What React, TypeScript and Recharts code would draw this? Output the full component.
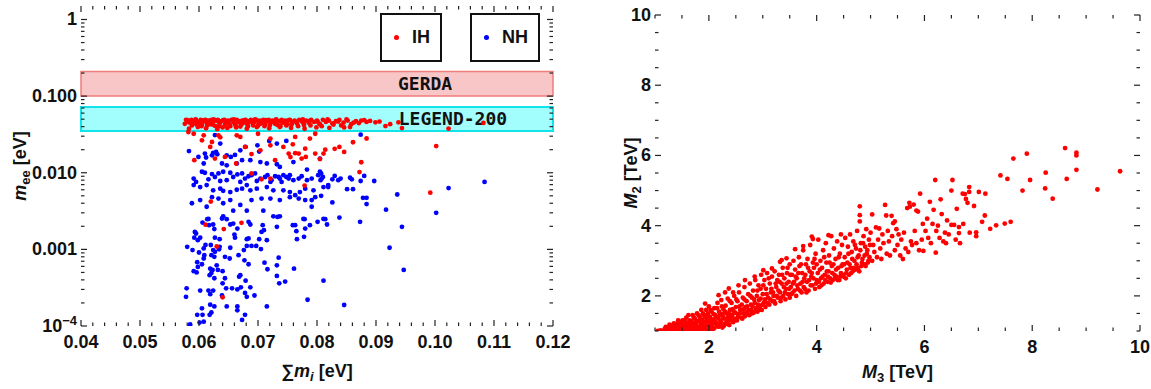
import React from 'react';
import { ScatterChart, Scatter, XAxis, YAxis, ReferenceArea, Legend } from 'recharts';

// left panel: [sum m_i (eV), m_ee (eV)]
const ihPoints: [number, number][] = [
  [0.0578, 0.049], [0.0581, 0.047], [0.0584, 0.045], [0.0587, 0.049], [0.0589, 0.043], [0.0592, 0.047],
  [0.0595, 0.049], [0.0597, 0.044], [0.06, 0.046], [0.0603, 0.049], [0.0605, 0.042], [0.0608, 0.047],
  [0.0611, 0.049], [0.0613, 0.045], [0.0616, 0.048], [0.0619, 0.043], [0.0621, 0.049], [0.0624, 0.046],
  [0.0627, 0.041], [0.0629, 0.048], [0.0632, 0.049], [0.0635, 0.044], [0.0638, 0.047], [0.064, 0.039],
  [0.0643, 0.049], [0.0646, 0.045], [0.0649, 0.048], [0.0652, 0.042], [0.0655, 0.049], [0.0658, 0.046],
  [0.0661, 0.043], [0.0664, 0.049], [0.0667, 0.047], [0.067, 0.04], [0.0673, 0.048], [0.0676, 0.045],
  [0.0679, 0.049], [0.0682, 0.043], [0.0685, 0.047], [0.0688, 0.049], [0.0691, 0.044], [0.0694, 0.046],
  [0.0697, 0.049], [0.07, 0.041], [0.0703, 0.048], [0.0706, 0.045], [0.0709, 0.049], [0.0712, 0.043],
  [0.0715, 0.047], [0.0718, 0.049], [0.0721, 0.044], [0.0724, 0.048], [0.0727, 0.046], [0.073, 0.049],
  [0.0733, 0.042], [0.0736, 0.047], [0.074, 0.049], [0.0743, 0.045], [0.0746, 0.048], [0.075, 0.043],
  [0.0754, 0.049], [0.0758, 0.046], [0.0762, 0.048], [0.0766, 0.044], [0.077, 0.049], [0.0774, 0.047],
  [0.0778, 0.042], [0.0782, 0.048], [0.0786, 0.045], [0.079, 0.049], [0.0795, 0.046], [0.08, 0.048],
  [0.0805, 0.043], [0.081, 0.049], [0.0815, 0.046], [0.082, 0.048], [0.0826, 0.044], [0.0832, 0.047],
  [0.0838, 0.049], [0.0845, 0.045], [0.0852, 0.048], [0.0858, 0.043], [0.0866, 0.047], [0.0875, 0.048],
  [0.0884, 0.046], [0.0899, 0.0455], [0.0916, 0.0407], [0.0924, 0.043], [0.0938, 0.0455], [0.0944, 0.0383],
  [0.1023, 0.0377], [0.1082, 0.0447],
  [0.058, 0.0485], [0.0586, 0.0465], [0.0594, 0.0495], [0.0602, 0.0445], [0.0609, 0.0485], [0.0617, 0.0455],
  [0.0625, 0.0495], [0.0633, 0.0465], [0.0641, 0.0485], [0.065, 0.0445], [0.0659, 0.0495], [0.0668, 0.0455],
  [0.0677, 0.0485], [0.0686, 0.0465], [0.0695, 0.0495], [0.0704, 0.0435], [0.0713, 0.0485], [0.0722, 0.0465],
  [0.0731, 0.0495], [0.0741, 0.0455], [0.0752, 0.0485], [0.0764, 0.0465], [0.0776, 0.0495], [0.0788, 0.0475],
  [0.0802, 0.0455], [0.0818, 0.0495], [0.0836, 0.0465], [0.085, 0.0495], [0.0862, 0.045], [0.088, 0.0485],
  [0.0583, 0.0375], [0.0598, 0.0395], [0.0612, 0.038], [0.0631, 0.037], [0.0648, 0.0385], [0.0663, 0.039],
  [0.0681, 0.0375], [0.0698, 0.0395], [0.0719, 0.038], [0.0737, 0.0395], [0.0756, 0.0385], [0.0779, 0.0375],
  [0.0799, 0.039], [0.0821, 0.0385], [0.0846, 0.039],
  [0.0576, 0.0435], [0.0588, 0.0415], [0.0596, 0.0425], [0.0604, 0.0405], [0.0614, 0.0415], [0.0623, 0.0425],
  [0.0634, 0.0405], [0.0644, 0.0425], [0.0653, 0.0405], [0.0662, 0.0415], [0.0672, 0.0425], [0.0683, 0.0405],
  [0.0692, 0.0415], [0.0701, 0.0445], [0.0711, 0.0405], [0.072, 0.0415], [0.0729, 0.0435], [0.0738, 0.0405],
  [0.0748, 0.0415], [0.0757, 0.0425], [0.0768, 0.0405], [0.0777, 0.0445], [0.0789, 0.0415], [0.0808, 0.0405],
  [0.0828, 0.0425], [0.0841, 0.0415], [0.0856, 0.0395], [0.0871, 0.0445], [0.089, 0.0475], [0.0906, 0.0465],
  [0.0582, 0.034], [0.0591, 0.0323], [0.0608, 0.0308], [0.0605, 0.0265], [0.0622, 0.0252], [0.0619, 0.0217],
  [0.0633, 0.0308], [0.0636, 0.029], [0.0664, 0.0308], [0.067, 0.0293], [0.0678, 0.0217], [0.0689, 0.0175],
  [0.07, 0.0323], [0.0704, 0.0196], [0.0721, 0.0279], [0.0721, 0.0228], [0.0729, 0.0146], [0.0743, 0.0217],
  [0.0752, 0.0178], [0.0763, 0.0293], [0.0774, 0.0153], [0.078, 0.0206], [0.0788, 0.0279], [0.0797, 0.0323],
  [0.0797, 0.0178], [0.0811, 0.0178], [0.0814, 0.02], [0.0592, 0.0146], [0.0627, 0.0153], [0.0644, 0.0161],
  [0.0663, 0.0132], [0.0689, 0.0098], [0.0706, 0.0082], [0.0721, 0.0084], [0.0779, 0.0068], [0.062, 0.0042],
  [0.0769, 0.0178], [0.0861, 0.025], [0.0884, 0.028], [0.0875, 0.0137], [0.0872, 0.0102], [0.0838, 0.0217],
  [0.0846, 0.0187], [0.083, 0.0205], [0.0805, 0.0151], [0.0781, 0.0161], [0.0755, 0.016], [0.0763, 0.018],
  [0.0759, 0.0235], [0.0992, 0.0055], [0.1002, 0.0223],
  [0.0611, 0.0021], [0.0642, 0.00184], [0.0672, 0.00222], [0.063, 0.00109], [0.064, 0.000237],
];

const nhPoints: [number, number][] = [
  [0.0627, 0.031], [0.0636, 0.024], [0.0583, 0.0192], [0.061, 0.0178], [0.0622, 0.0169], [0.0624, 0.0182],
  [0.0629, 0.0187], [0.0631, 0.0174], [0.0599, 0.0161], [0.0612, 0.0158], [0.0647, 0.0169], [0.0654, 0.0161],
  [0.0661, 0.0171], [0.067, 0.0196], [0.0679, 0.0217], [0.0699, 0.0228], [0.0702, 0.0189], [0.0719, 0.026],
  [0.0732, 0.024], [0.0748, 0.026], [0.0608, 0.0132], [0.0639, 0.0132], [0.0647, 0.0125], [0.0664, 0.0132],
  [0.0673, 0.0146], [0.0687, 0.0146], [0.0704, 0.0138], [0.0715, 0.0132], [0.0732, 0.0129], [0.0737, 0.0119],
  [0.076, 0.0138], [0.0783, 0.011], [0.0805, 0.0103],
  [0.0605, 0.0103], [0.061, 0.01], [0.0622, 0.0096], [0.0627, 0.0088], [0.0633, 0.0098], [0.0641, 0.0103],
  [0.0653, 0.01], [0.0658, 0.0088], [0.0665, 0.0095], [0.0673, 0.0098], [0.0678, 0.0084], [0.0684, 0.009],
  [0.0689, 0.0093], [0.0695, 0.0098], [0.0704, 0.0084], [0.0712, 0.0088], [0.0716, 0.0093], [0.0723, 0.008],
  [0.0729, 0.009], [0.0735, 0.0088], [0.0737, 0.0084], [0.0743, 0.0093], [0.0748, 0.0088], [0.0752, 0.0084],
  [0.0754, 0.0093], [0.076, 0.008], [0.0769, 0.0084], [0.0774, 0.009], [0.0783, 0.008], [0.0791, 0.0084],
  [0.0802, 0.0093], [0.0808, 0.0084], [0.0591, 0.0084], [0.0595, 0.0076], [0.0616, 0.0082], [0.0636, 0.0078],
  [0.0647, 0.008], [0.067, 0.0076], [0.0698, 0.0078], [0.0721, 0.0076], [0.074, 0.0076],
  [0.0591, 0.0069], [0.0602, 0.0065], [0.0613, 0.0069], [0.0624, 0.0059], [0.0636, 0.0062], [0.0641, 0.0058],
  [0.0653, 0.0056], [0.0664, 0.006], [0.0673, 0.0062], [0.0681, 0.0069], [0.0687, 0.0059], [0.0698, 0.0062],
  [0.0715, 0.0065], [0.0726, 0.0059], [0.0743, 0.0059], [0.0754, 0.0056], [0.0763, 0.0051], [0.0771, 0.0056],
  [0.078, 0.0062], [0.0794, 0.0059], [0.0811, 0.0065], [0.0819, 0.0069],
  [0.0588, 0.004], [0.0602, 0.0044], [0.0613, 0.0036], [0.0622, 0.0048], [0.0633, 0.0046], [0.0641, 0.004],
  [0.0653, 0.0044], [0.0658, 0.0032], [0.067, 0.0038], [0.0681, 0.0032], [0.0689, 0.0044], [0.0706, 0.0046],
  [0.0721, 0.0046], [0.0737, 0.0044], [0.0726, 0.0027], [0.0709, 0.0032], [0.0737, 0.0027], [0.0754, 0.0048],
  [0.0769, 0.0046], [0.078, 0.0044], [0.0791, 0.0044], [0.0797, 0.0048], [0.0791, 0.0036], [0.0811, 0.0025],
  [0.0777, 0.0025], [0.0616, 0.0025], [0.0641, 0.0027],
  [0.0606, 0.00224], [0.0614, 0.00248], [0.0617, 0.00207], [0.0624, 0.00211], [0.0626, 0.00184], [0.0639, 0.00253],
  [0.0647, 0.00248], [0.0653, 0.00211], [0.0658, 0.00217], [0.0665, 0.00187], [0.0684, 0.00229], [0.0687, 0.00211],
  [0.0708, 0.00207], [0.071, 0.00178], [0.0706, 0.00169], [0.0732, 0.00197], [0.0733, 0.00265], [0.0759, 0.00207],
  [0.0763, 0.00207], [0.0765, 0.00173], [0.0779, 0.00248], [0.078, 0.00187], [0.0788, 0.00207], [0.0801, 0.00229],
  [0.0814, 0.00248], [0.0817, 0.00211], [0.0593, 0.00169], [0.0595, 0.00161], [0.0592, 0.00142], [0.0598, 0.00132],
  [0.0602, 0.00142], [0.0627, 0.00142], [0.0635, 0.00136], [0.066, 0.00156], [0.0661, 0.00142], [0.0681, 0.00136],
  [0.0684, 0.00139], [0.0702, 0.00136], [0.0715, 0.00132], [0.0766, 0.00136], [0.0778, 0.00146],
  [0.058, 0.00108], [0.0589, 0.00098], [0.06, 0.00091], [0.0608, 0.00103], [0.0611, 0.00114], [0.062, 0.00114],
  [0.0624, 0.00098], [0.0634, 0.001], [0.0635, 0.00108], [0.0653, 0.00105], [0.0676, 0.00098], [0.0681, 0.00111],
  [0.0689, 0.00111], [0.0697, 0.00111], [0.0705, 0.00101], [0.0608, 0.00076], [0.0609, 0.00084], [0.0621, 0.00084],
  [0.0626, 0.0008], [0.0627, 0.00093], [0.0644, 0.0008], [0.0652, 0.00076], [0.0667, 0.00084], [0.0677, 0.00072],
  [0.0684, 0.00064], [0.0711, 0.00067], [0.0716, 0.00055], [0.0732, 0.00062], [0.0735, 0.00078], [0.0761, 0.00056],
  [0.0597, 0.00068], [0.0598, 0.00059], [0.0605, 0.00064], [0.0619, 0.00056], [0.0623, 0.00054], [0.063, 0.00062],
  [0.0632, 0.00054], [0.064, 0.00052], [0.0591, 0.00052], [0.0596, 0.0005], [0.0618, 0.00046], [0.0621, 0.00049],
  [0.0626, 0.00042], [0.0644, 0.00042], [0.0668, 0.00044], [0.067, 0.00046], [0.0679, 0.00039], [0.0687, 0.00032],
  [0.0732, 0.00045], [0.0736, 0.00036], [0.0746, 0.00038], [0.0811, 0.00039],
  [0.0579, 0.00031], [0.0578, 0.00024], [0.0602, 0.00029], [0.0616, 0.00029], [0.0619, 0.00026], [0.0624, 0.00029],
  [0.0639, 0.00025], [0.064, 0.00036], [0.0646, 0.00031], [0.0656, 0.00031], [0.0665, 0.0003], [0.0671, 0.00032],
  [0.0678, 0.00027], [0.0681, 0.00024], [0.0694, 0.00025], [0.0715, 0.00018], [0.0784, 0.00022],
  [0.0605, 0.00017], [0.0606, 0.00014], [0.0618, 0.00014], [0.0619, 0.00019], [0.0621, 0.00015], [0.0626, 0.00018],
  [0.0647, 0.00018], [0.0665, 0.00018], [0.0665, 0.00016], [0.0678, 0.00014], [0.0673, 0.00012], [0.0597, 0.00014],
  [0.0601, 0.000111], [0.0608, 0.000114], [0.0585, 0.000105],
  [0.0874, 0.0314], [0.0805, 0.0153], [0.0807, 0.0098], [0.081, 0.0088], [0.0806, 0.008], [0.083, 0.0091],
  [0.0836, 0.008], [0.084, 0.0084], [0.0826, 0.0082], [0.0856, 0.0086], [0.0859, 0.0082], [0.0874, 0.0078],
  [0.088, 0.0091], [0.0897, 0.0078], [0.0851, 0.0061], [0.0861, 0.0061], [0.0819, 0.0065], [0.0807, 0.005],
  [0.0936, 0.0052], [0.1023, 0.0063], [0.0878, 0.0047], [0.0884, 0.0047], [0.0884, 0.0039], [0.0826, 0.0041],
  [0.0917, 0.0033], [0.1002, 0.003], [0.0838, 0.0026], [0.1084, 0.0076], [0.0944, 0.00197], [0.0923, 0.00105],
  [0.0947, 0.00054], [0.0873, 0.00229], [0.0846, 0.000188],
];

// right panel: [M3 (TeV), M2 (TeV)]
const heavyPoints: [number, number][] = [
  [1.05, 1.0], [1.1, 1.02], [1.15, 1.0], [1.18, 1.06], [1.22, 1.03], [1.25, 1.1], [1.28, 1.0], [1.3, 1.07],
  [1.33, 1.15], [1.36, 1.02], [1.38, 1.1], [1.4, 1.2], [1.42, 1.05], [1.43, 1.3], [1.45, 1.13], [1.47, 1.0],
  [1.48, 1.25], [1.5, 1.08], [1.52, 1.18],
  [1.55, 1.02], [1.55, 1.3], [1.57, 1.12], [1.6, 1.22], [1.6, 1.0], [1.62, 1.45], [1.63, 1.08], [1.65, 1.17],
  [1.67, 1.28], [1.68, 1.02], [1.7, 1.45], [1.71, 1.12], [1.73, 1.23], [1.74, 1.35], [1.75, 1.05], [1.77, 1.17],
  [1.78, 1.5], [1.8, 1.28], [1.8, 1.0], [1.82, 1.1], [1.83, 1.4], [1.85, 1.2], [1.86, 1.6], [1.87, 1.03],
  [1.88, 1.32], [1.9, 1.13], [1.91, 1.45], [1.92, 1.24], [1.93, 1.78], [1.94, 1.06], [1.95, 1.6], [1.96, 1.35],
  [1.97, 1.16], [1.98, 1.5], [2.0, 1.02], [2.0, 1.27], [2.0, 1.7],
  [2.02, 1.4], [2.04, 1.12], [2.05, 1.55], [2.06, 1.2], [2.08, 1.33], [2.1, 1.08], [2.1, 1.65], [2.12, 1.45],
  [2.13, 1.25], [2.15, 1.15], [2.16, 1.8], [2.17, 1.38], [2.18, 2.02], [2.19, 1.55], [2.2, 1.18], [2.21, 1.3],
  [2.23, 1.88], [2.24, 1.48], [2.25, 1.1], [2.27, 1.62], [2.28, 1.35], [2.3, 1.22], [2.3, 2.1], [2.31, 1.72],
  [2.32, 1.5], [2.34, 1.28], [2.35, 1.92], [2.36, 1.4], [2.37, 2.21], [2.38, 1.17], [2.39, 1.6], [2.4, 1.3],
  [2.42, 1.8], [2.43, 1.45], [2.45, 1.25], [2.45, 2.1], [2.46, 1.55], [2.47, 2.0], [2.48, 1.35], [2.5, 1.68],
  [2.52, 1.3], [2.53, 1.85], [2.55, 1.48], [2.55, 2.3], [2.56, 2.1], [2.58, 1.6], [2.6, 1.38], [2.61, 1.75],
  [2.63, 1.95], [2.64, 1.5], [2.66, 2.25], [2.67, 1.42], [2.67, 2.45], [2.68, 1.68], [2.7, 1.85], [2.72, 1.55],
  [2.73, 2.05], [2.75, 1.45], [2.76, 2.35], [2.78, 1.75], [2.79, 1.6], [2.8, 1.95], [2.82, 2.15], [2.83, 1.52],
  [2.85, 1.8], [2.85, 2.55], [2.86, 2.45], [2.88, 1.65], [2.89, 2.0], [2.9, 1.55], [2.92, 2.3], [2.93, 1.88],
  [2.95, 1.7], [2.96, 2.2], [2.97, 2.6], [2.98, 1.6], [3.0, 2.05], [3.01, 2.73],
  [3.02, 1.8], [3.03, 2.45], [3.05, 1.68], [3.06, 2.2], [3.08, 2.65], [3.1, 1.95], [3.12, 1.75], [3.13, 2.35],
  [3.15, 2.1], [3.17, 2.55], [3.17, 2.78], [3.18, 1.85], [3.2, 2.0], [3.22, 2.7], [3.23, 1.78], [3.25, 2.25],
  [3.27, 2.45], [3.28, 1.95], [3.3, 2.6], [3.32, 2.1], [3.32, 2.97], [3.33, 1.85], [3.35, 2.35], [3.35, 3.02],
  [3.37, 2.8], [3.38, 2.0], [3.4, 2.5], [3.42, 1.9], [3.43, 2.2], [3.44, 3.07], [3.45, 2.65], [3.47, 2.05],
  [3.48, 2.4], [3.5, 1.95], [3.5, 2.9],
  [3.52, 2.25], [3.54, 2.6], [3.55, 2.08], [3.57, 3.0], [3.58, 2.4], [3.6, 2.75], [3.6, 3.33], [3.62, 2.0],
  [3.63, 2.5], [3.65, 2.2], [3.67, 3.1], [3.68, 2.85], [3.7, 2.35], [3.72, 2.1], [3.73, 2.65], [3.75, 3.3],
  [3.75, 3.42], [3.77, 2.5], [3.78, 2.2], [3.8, 2.9], [3.82, 2.4], [3.83, 3.05], [3.85, 2.15], [3.87, 2.7],
  [3.88, 3.45], [3.9, 2.55], [3.91, 3.69], [3.92, 2.3], [3.93, 2.95], [3.93, 3.62], [3.95, 2.8], [3.97, 2.2],
  [3.98, 3.2], [4.0, 2.45], [4.0, 2.9],
  [4.02, 2.65], [4.03, 3.6], [4.05, 2.25], [4.07, 3.0], [4.08, 2.5], [4.1, 2.8], [4.12, 3.3], [4.13, 2.35],
  [4.15, 2.6], [4.17, 3.5], [4.18, 2.95], [4.2, 2.4], [4.22, 2.7], [4.22, 3.73], [4.23, 3.15], [4.25, 2.5],
  [4.27, 3.7], [4.28, 2.85], [4.3, 2.45], [4.32, 3.35], [4.33, 2.6], [4.35, 3.05], [4.37, 2.55], [4.38, 3.55],
  [4.4, 2.8], [4.42, 2.45], [4.43, 3.2], [4.45, 2.65], [4.45, 3.75], [4.47, 3.45], [4.48, 2.9], [4.5, 2.55],
  [4.52, 3.1], [4.53, 3.65], [4.55, 2.65], [4.57, 2.95], [4.58, 3.4], [4.6, 2.6], [4.62, 3.75], [4.63, 2.8],
  [4.65, 3.25], [4.67, 2.7], [4.68, 3.55], [4.7, 3.0], [4.72, 2.75], [4.73, 3.35], [4.75, 3.85], [4.77, 2.8],
  [4.78, 3.15], [4.8, 4.55], [4.8, 4.3], [4.8, 4.12], [4.82, 3.5], [4.83, 2.85], [4.85, 3.05], [4.87, 3.7],
  [4.88, 2.9], [4.9, 3.4], [4.92, 3.9], [4.93, 3.2], [4.95, 2.95], [4.97, 3.6], [4.98, 3.1], [5.0, 3.8],
  [5.03, 4.32], [5.03, 3.0], [5.05, 3.45], [5.07, 3.25], [5.1, 3.95], [5.12, 3.1], [5.14, 3.6], [5.16, 3.92],
  [5.18, 3.35], [5.2, 3.05], [5.22, 3.75], [5.24, 3.5], [5.27, 4.59], [5.29, 4.29], [5.3, 3.2], [5.32, 3.85],
  [5.34, 3.55], [5.36, 3.15], [5.39, 4.28], [5.4, 3.7], [5.42, 4.07], [5.45, 4.12], [5.45, 3.3], [5.48, 3.9],
  [5.5, 3.45],
  [5.52, 3.75], [5.55, 3.15], [5.57, 3.6], [5.6, 3.05], [5.62, 3.8], [5.65, 3.35], [5.68, 4.5], [5.7, 3.25],
  [5.72, 4.65], [5.73, 4.54], [5.75, 3.55], [5.77, 3.45], [5.8, 4.6], [5.82, 3.85], [5.85, 3.5], [5.85, 4.43],
  [5.88, 4.4], [5.9, 3.3], [5.92, 4.91], [5.95, 3.6], [5.97, 4.05], [5.98, 3.28],
  [6.02, 3.85], [6.05, 4.2], [6.07, 3.65], [6.1, 4.68], [6.12, 3.5], [6.15, 4.05], [6.17, 4.45], [6.2, 5.3],
  [6.21, 3.23], [6.22, 3.85], [6.25, 4.0], [6.28, 3.65], [6.3, 4.75], [6.32, 4.33], [6.35, 3.55], [6.38, 3.8],
  [6.4, 3.5], [6.42, 4.15], [6.45, 3.75], [6.5, 4.02], [6.5, 5.0], [6.52, 5.3],
  [6.55, 4.02], [6.58, 3.6], [6.6, 4.48], [6.64, 3.96], [6.64, 3.79], [6.66, 3.5], [6.71, 4.91], [6.72, 4.05],
  [6.75, 4.9], [6.77, 4.76], [6.8, 4.65], [6.83, 5.1], [6.83, 4.96], [6.84, 3.8], [6.92, 4.56], [6.96, 3.81],
  [6.96, 3.7], [7.01, 4.96], [7.07, 4.11], [7.12, 4.29], [7.13, 4.91], [7.22, 3.91],
  [7.33, 4.01], [7.41, 5.43], [7.49, 4.06], [7.54, 5.33], [7.6, 4.11], [7.65, 5.91], [7.82, 5.0], [7.9, 6.05],
  [7.96, 5.3], [8.24, 5.06], [8.25, 5.51], [8.38, 4.77], [8.61, 6.21], [8.64, 5.33], [8.82, 6.08], [8.82, 6.0],
  [8.82, 5.59], [9.21, 5.03], [9.63, 5.55],
  [1.2, 1.12], [1.27, 1.18], [1.32, 1.04], [1.35, 1.22], [1.41, 1.12], [1.44, 1.02], [1.46, 1.2], [1.51, 1.3],
  [1.53, 1.0], [1.56, 1.2], [1.58, 1.38], [1.61, 1.12], [1.64, 1.3], [1.66, 1.05], [1.69, 1.2], [1.72, 1.38],
  [1.72, 1.02], [1.76, 1.28], [1.79, 1.1], [1.81, 1.45], [1.84, 1.02], [1.84, 1.3], [1.87, 1.15], [1.89, 1.5],
  [1.9, 1.25], [1.93, 1.4], [1.95, 1.1], [1.97, 1.28], [1.99, 1.42], [2.01, 1.18], [2.03, 1.6], [2.05, 1.3],
  [2.07, 1.05], [2.09, 1.48], [2.11, 1.22], [2.14, 1.38], [2.15, 1.65], [2.18, 1.12], [2.2, 1.45], [2.22, 1.25],
  [2.24, 1.7], [2.26, 1.4], [2.28, 1.15], [2.3, 1.55], [2.33, 1.35], [2.35, 1.2], [2.37, 1.5], [2.39, 1.85],
  [2.41, 1.4], [2.44, 1.62], [2.46, 1.3], [2.49, 1.52], [2.51, 1.9], [2.54, 1.4], [2.57, 1.7], [2.59, 1.52],
  [2.62, 1.35], [2.65, 1.62], [2.66, 1.9], [2.69, 1.5], [2.71, 1.7], [2.74, 1.6], [2.77, 2.0], [2.8, 1.5],
  [2.81, 1.7], [2.84, 1.9], [2.87, 1.58], [2.9, 2.15], [2.91, 1.75], [2.94, 1.6], [2.96, 1.92], [2.99, 1.75],
  [3.01, 2.3], [3.04, 1.9], [3.07, 2.05], [3.09, 1.8], [3.11, 2.5], [3.14, 1.9], [3.16, 2.2], [3.19, 2.1],
  [3.21, 1.85], [3.24, 2.35], [3.26, 2.0], [3.29, 2.15], [3.31, 2.4], [3.34, 1.95], [3.36, 2.6], [3.39, 2.25],
  [3.41, 2.1], [3.44, 2.35], [3.46, 2.8], [3.49, 2.2], [3.51, 2.6], [3.53, 2.05], [3.56, 2.35], [3.59, 2.15],
  [3.61, 2.55], [3.64, 2.3], [3.66, 2.65], [3.69, 2.15], [3.71, 2.9], [3.74, 2.4], [3.76, 2.25], [3.79, 2.6],
  [3.81, 2.1], [3.84, 2.8], [3.86, 2.45], [3.89, 2.3], [3.91, 2.65], [3.94, 2.5], [3.96, 3.05], [3.99, 2.35],
  [4.04, 2.4], [4.06, 2.75], [4.09, 2.3], [4.11, 2.55], [4.14, 3.1], [4.16, 2.45], [4.19, 2.7], [4.21, 2.55],
  [4.24, 2.95], [4.26, 2.38], [4.29, 2.65], [4.31, 2.9], [4.34, 2.5], [4.36, 2.75], [4.39, 2.45], [4.41, 3.1],
  [4.44, 2.55], [4.46, 2.85], [4.49, 2.6], [4.51, 2.9], [4.54, 2.5], [4.56, 2.75], [4.59, 3.2], [4.61, 2.9],
  [4.64, 2.65], [4.66, 3.05], [4.69, 2.8], [4.71, 3.45], [4.74, 2.9], [4.76, 3.1], [4.79, 2.7], [4.81, 3.3],
  [4.84, 2.95], [4.86, 3.5], [4.89, 3.15], [4.91, 2.85], [4.94, 3.3], [4.96, 3.0], [4.99, 3.45],
];

// axes
const sumTicks = [0.04, 0.05, 0.06, 0.07, 0.08, 0.09, 0.1, 0.11, 0.12];
const meeTicks = [0.0001, 0.001, 0.01, 0.1, 1];
const meeTickLabels = ['10^-4', '0.001', '0.010', '0.100', '1'];
const massTicks = [2, 4, 6, 8, 10];

// experimental bounds on m_ee (eV)
const gerdaBand = [0.1, 0.21];
const legend200Band = [0.035, 0.072];

const legendItems = [
  { name: 'IH', color: '#ff0000', width: 62 },
  { name: 'NH', color: '#0000ff', width: 70 },
];

const AXIS = '#222';
const FONT = "'Liberation Sans', Arial, sans-serif";
const MONO = "'DejaVu Sans Mono', monospace";

const ihData = ihPoints.map(([sum, mee]) => ({ sum, mee }));
const nhData = nhPoints.map(([sum, mee]) => ({ sum, mee }));
const heavyData = heavyPoints.map(([m3, m2]) => ({ m3, m2 }));

const sumAllTicks = Array.from({ length: 41 }, (_, i) => +(0.04 + i * 0.002).toFixed(3));
const meeAllTicks = meeTicks.flatMap((d, i) =>
  i === meeTicks.length - 1 ? [d] : [1, 2, 3, 4, 5, 6, 7, 8, 9].map((k) => +(d * k).toPrecision(3))
);
const massAllTicks = Array.from({ length: 19 }, (_, i) => 1 + i * 0.5);

const isIn = (list: number[], v: number) => list.findIndex((t) => Math.abs(t - v) < 1e-9);

const dot = (color: string) => (p: any) => <circle cx={p.cx} cy={p.cy} r={2.4} fill={color} />;

function xTick(majors: number[], fmt: (v: number) => string, plotH: number) {
  return (p: any) => {
    const { x, y, payload } = p;
    const major = isIn(majors, payload.value) >= 0;
    const len = major ? 6 : 3.5;
    return (
      <g>
        <line x1={x} y1={y} x2={x} y2={y - len} stroke={AXIS} strokeWidth={1.2} />
        <line x1={x} y1={y - plotH} x2={x} y2={y - plotH + len} stroke={AXIS} strokeWidth={1.2} />
        {major && (
          <text x={x} y={y + 22} textAnchor="middle" fontFamily={FONT} fontWeight={700} fontSize={18} fill="#111">
            {fmt(payload.value)}
          </text>
        )}
      </g>
    );
  };
}

function yTick(majors: number[], label: (i: number) => React.ReactNode, plotW: number) {
  return (p: any) => {
    const { x, y, payload } = p;
    const i = isIn(majors, payload.value);
    const len = i >= 0 ? 6 : 3.5;
    return (
      <g>
        <line x1={x} y1={y} x2={x + len} y2={y} stroke={AXIS} strokeWidth={1.2} />
        <line x1={x + plotW} y1={y} x2={x + plotW - len} y2={y} stroke={AXIS} strokeWidth={1.2} />
        {i >= 0 && (
          <text x={x - 4} y={y} dy={6} textAnchor="end" fontFamily={FONT} fontWeight={700} fontSize={18} fill="#111">
            {label(i)}
          </text>
        )}
      </g>
    );
  };
}

const meeLabel = (i: number) => {
  const s = meeTickLabels[i];
  if (s.includes('^')) {
    const [base, exp] = s.split('^');
    return (
      <>
        {base}
        <tspan dy={-7} fontSize={13}>{exp.replace('-', '\u2212')}</tspan>
      </>
    );
  }
  return s;
};

const bandLabel = (text: string, frac: number) => (p: any) => {
  const vb = p.viewBox;
  return (
    <text x={vb.x + vb.width * frac} y={vb.y + vb.height / 2} dy={6} textAnchor="middle"
      fontFamily={MONO} fontWeight={700} fontSize={18} fill="#111">
      {text}
    </text>
  );
};

const renderLegend = () => (
  <div style={{ display: 'flex', gap: 28 }}>
    {legendItems.map((it) => (
      <div key={it.name} style={{
        boxSizing: 'border-box', width: it.width, height: 49, border: '2px solid #111',
        display: 'flex', alignItems: 'center', paddingLeft: 12, gap: 13,
        fontFamily: FONT, fontWeight: 700, fontSize: 18, color: '#111', background: '#fff',
      }}>
        <span style={{ width: 5, height: 5, borderRadius: '50%', background: it.color, display: 'inline-block' }} />
        <span>{it.name}</span>
      </div>
    ))}
  </div>
);

const LEFT_W = 472;
const LEFT_H = 320;
const RIGHT_W = 485;
const RIGHT_H = 316;

export default function App() {
  return (
    <div style={{ position: 'absolute', left: 0, top: 0, width: 1151, height: 389, background: '#fff' }}>
      <div style={{ position: 'absolute', left: 0, top: 0 }}>
        <ScatterChart width={570} height={389} margin={{ top: 6, right: 17, bottom: 0, left: 0 }}>
          <XAxis
            type="number" dataKey="sum" domain={[0.04, 0.12]} ticks={sumAllTicks} interval={0}
            height={63} tickSize={0} tickMargin={0} axisLine={false} tickLine={false} allowDataOverflow
            tick={xTick(sumTicks, (v) => v.toFixed(2), LEFT_H)}
            label={(p: any) => {
              const vb = p.viewBox;
              return (
                <text x={vb.x + vb.width / 2} y={vb.y + 51} textAnchor="middle" fontFamily={FONT} fontWeight={700} fontSize={18} fill="#111">
                  <tspan>{'\u2211'}</tspan>
                  <tspan fontStyle="italic">m</tspan>
                  <tspan fontStyle="italic" fontSize={13} dy={4}>i</tspan>
                  <tspan dy={-4}> [eV]</tspan>
                </text>
              );
            }}
          />
          <YAxis
            type="number" dataKey="mee" scale="log" domain={[0.0001, 1.5]} ticks={meeAllTicks} interval={0}
            width={81} tickSize={0} tickMargin={0} axisLine={false} tickLine={false} allowDataOverflow
            tick={yTick(meeTicks, meeLabel, LEFT_W)}
            label={(p: any) => {
              const vb = p.viewBox;
              const cx = 26;
              const cy = vb.y + vb.height / 2;
              return (
                <text x={cx} y={cy} transform={`rotate(-90, ${cx}, ${cy})`} textAnchor="middle" fontFamily={FONT} fontWeight={700} fontSize={18} fill="#111">
                  <tspan fontStyle="italic">m</tspan>
                  <tspan fontSize={13} dy={4}>ee</tspan>
                  <tspan dy={-4}> [eV]</tspan>
                </text>
              );
            }}
          />
          <ReferenceArea y1={gerdaBand[0]} y2={gerdaBand[1]} fill="#f8c6c6" fillOpacity={1} stroke="#f07c7c" strokeWidth={1.5} />
          <ReferenceArea y1={legend200Band[0]} y2={legend200Band[1]} fill="#a2fdfd" fillOpacity={1} stroke="#10e4ea" strokeWidth={2} />
          <Scatter data={nhData} shape={dot('#0000ff')} isAnimationActive={false} />
          <Scatter data={ihData} shape={dot('#ff0000')} isAnimationActive={false} />
          <ReferenceArea y1={gerdaBand[0]} y2={gerdaBand[1]} fill="none" stroke="none" label={bandLabel('GERDA', 0.729)} />
          <ReferenceArea y1={legend200Band[0]} y2={legend200Band[1]} fill="none" stroke="none" label={bandLabel('LEGEND-200', 0.788)} />
          <ReferenceArea fill="none" stroke={AXIS} strokeWidth={1.6} />
          <Legend verticalAlign="middle" align="center" layout="horizontal"
            wrapperStyle={{ left: 380, top: 13, width: 'auto', height: 'auto' }} content={renderLegend} />
        </ScatterChart>
      </div>
      <div style={{ position: 'absolute', left: 575, top: 0 }}>
        <ScatterChart width={576} height={389} margin={{ top: 15, right: 11, bottom: 0, left: 0 }}>
          <XAxis
            type="number" dataKey="m3" domain={[1, 10]} ticks={massAllTicks} interval={0}
            height={58} tickSize={0} tickMargin={0} axisLine={false} tickLine={false} allowDataOverflow
            tick={xTick(massTicks, (v) => String(v), RIGHT_H)}
            label={(p: any) => {
              const vb = p.viewBox;
              return (
                <text x={vb.x + vb.width / 2} y={vb.y + 47} textAnchor="middle" fontFamily={FONT} fontWeight={700} fontSize={18} fill="#111">
                  <tspan fontStyle="italic">M</tspan>
                  <tspan fontSize={13} dy={4}>3</tspan>
                  <tspan dy={-4}> [TeV]</tspan>
                </text>
              );
            }}
          />
          <YAxis
            type="number" dataKey="m2" domain={[1, 10]} ticks={massAllTicks} interval={0}
            width={80} tickSize={0} tickMargin={0} axisLine={false} tickLine={false} allowDataOverflow
            tick={yTick(massTicks, (i) => String(massTicks[i]), RIGHT_W)}
            label={(p: any) => {
              const vb = p.viewBox;
              const cx = 62;
              const cy = vb.y + vb.height / 2;
              return (
                <text x={cx} y={cy} transform={`rotate(-90, ${cx}, ${cy})`} textAnchor="middle" fontFamily={FONT} fontWeight={700} fontSize={18} fill="#111">
                  <tspan fontStyle="italic">M</tspan>
                  <tspan fontSize={13} dy={4}>2</tspan>
                  <tspan dy={-4}> [TeV]</tspan>
                </text>
              );
            }}
          />
          <Scatter data={heavyData} shape={dot('#ff0000')} isAnimationActive={false} />
          <ReferenceArea fill="none" stroke={AXIS} strokeWidth={1.6} />
        </ScatterChart>
      </div>
    </div>
  );
}
